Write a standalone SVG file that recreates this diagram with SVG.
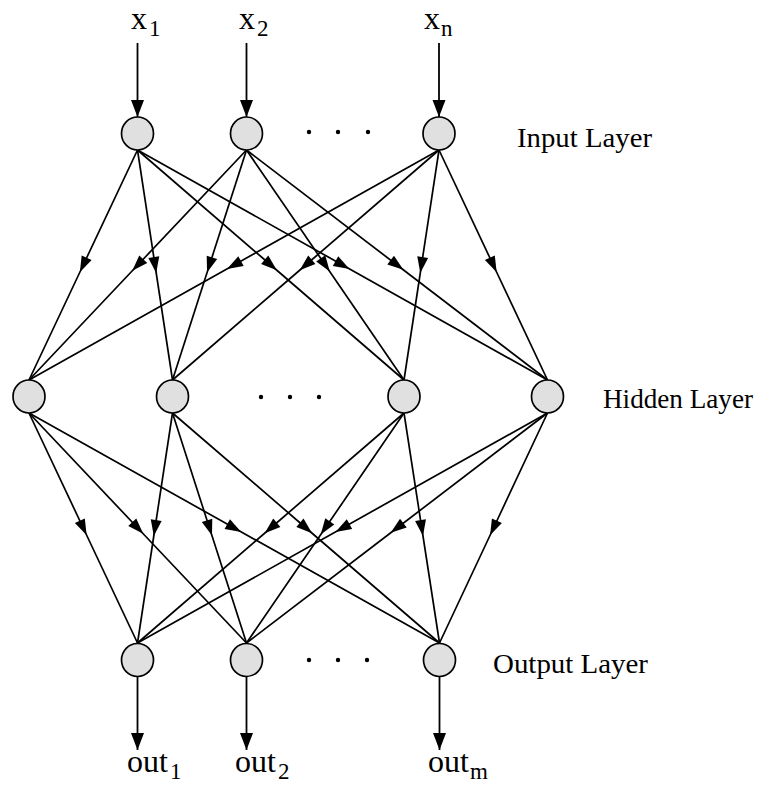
<svg xmlns="http://www.w3.org/2000/svg" width="761" height="785" viewBox="0 0 761 785">
<style>
.node{fill:#e0e0e0;stroke:#000;stroke-width:1.7}
.dot{fill:#000}
.edge{fill:none;stroke:#000;stroke-width:1.7;marker-mid:url(#mid)}
.io{fill:none;stroke:#000;stroke-width:1.8;marker-end:url(#end)}
.lbl{font-family:"Liberation Serif","Times New Roman",serif;font-size:32px;fill:#000}
.sub{font-size:23px}
.layer{font-family:"Liberation Serif","Times New Roman",serif;font-size:28px;fill:#000}
</style>
<defs>
<marker id="mid" markerUnits="userSpaceOnUse" markerWidth="17" markerHeight="12" refX="8" refY="5.5" orient="auto" overflow="visible">
<path d="M0,0 L16,5.5 L0,11 z" fill="#000"/>
</marker>
<marker id="end" markerUnits="userSpaceOnUse" markerWidth="18" markerHeight="13" refX="17" refY="6.5" orient="auto" overflow="visible">
<path d="M0,0 L17,6.5 L0,13 z" fill="#000"/>
</marker>
</defs>
<rect width="761" height="785" fill="#fff"/>
<g id="connectors">
<line class="io" x1="137.5" y1="43" x2="137.5" y2="117"/>
<line class="io" x1="246.5" y1="43" x2="246.5" y2="117"/>
<line class="io" x1="439" y1="43" x2="439" y2="117"/>
<polyline class="edge" points="137.5,150 83.25,265 29,380"/>
<polyline class="edge" points="137.5,150 155,265 172.5,380"/>
<polyline class="edge" points="137.5,150 270.75,265 404,380"/>
<polyline class="edge" points="137.5,150 342.5,265 547.5,380"/>
<polyline class="edge" points="246.5,150 137.75,265 29,380"/>
<polyline class="edge" points="246.5,150 209.5,265 172.5,380"/>
<polyline class="edge" points="246.5,150 325.25,265 404,380"/>
<polyline class="edge" points="246.5,150 397,265 547.5,380"/>
<polyline class="edge" points="439,150 234,265 29,380"/>
<polyline class="edge" points="439,150 305.75,265 172.5,380"/>
<polyline class="edge" points="439,150 421.5,265 404,380"/>
<polyline class="edge" points="439,150 493.25,265 547.5,380"/>
<polyline class="edge" points="29,413 83.25,528 137.5,643"/>
<polyline class="edge" points="29,413 137.75,528 246.5,643"/>
<polyline class="edge" points="29,413 234.25,528 439.5,643"/>
<polyline class="edge" points="172.5,413 155,528 137.5,643"/>
<polyline class="edge" points="172.5,413 209.5,528 246.5,643"/>
<polyline class="edge" points="172.5,413 306,528 439.5,643"/>
<polyline class="edge" points="404,413 270.75,528 137.5,643"/>
<polyline class="edge" points="404,413 325.25,528 246.5,643"/>
<polyline class="edge" points="404,413 421.75,528 439.5,643"/>
<polyline class="edge" points="547.5,413 342.5,528 137.5,643"/>
<polyline class="edge" points="547.5,413 397,528 246.5,643"/>
<polyline class="edge" points="547.5,413 493.5,528 439.5,643"/>
<line class="io" x1="137.5" y1="677" x2="137.5" y2="750"/>
<line class="io" x1="246.5" y1="677" x2="246.5" y2="750"/>
<line class="io" x1="439.5" y1="677" x2="439.5" y2="750"/>
</g>
<g id="input1"><ellipse class="node" cx="137.5" cy="133.5" rx="16" ry="16.5"/></g>
<g id="input2"><ellipse class="node" cx="246.5" cy="133.5" rx="16" ry="16.5"/></g>
<g id="inputn"><ellipse class="node" cx="439" cy="133.5" rx="16" ry="16.5"/></g>
<g id="inputdots"><circle class="dot" cx="309" cy="132" r="2.2"/><circle class="dot" cx="338" cy="132" r="2.2"/><circle class="dot" cx="368" cy="132" r="2.2"/></g>
<g id="hidden1"><ellipse class="node" cx="29" cy="396.5" rx="16" ry="16.5"/></g>
<g id="hidden2"><ellipse class="node" cx="172.5" cy="396.5" rx="16" ry="16.5"/></g>
<g id="hidden3"><ellipse class="node" cx="404" cy="396.5" rx="16" ry="16.5"/></g>
<g id="hidden4"><ellipse class="node" cx="547.5" cy="396.5" rx="16" ry="16.5"/></g>
<g id="hiddendots"><circle class="dot" cx="261" cy="397" r="2.2"/><circle class="dot" cx="290" cy="397" r="2.2"/><circle class="dot" cx="319" cy="397" r="2.2"/></g>
<g id="output1"><ellipse class="node" cx="137.5" cy="660" rx="16" ry="16.5"/></g>
<g id="output2"><ellipse class="node" cx="246.5" cy="660" rx="16" ry="16.5"/></g>
<g id="outputm"><ellipse class="node" cx="439.5" cy="660" rx="16" ry="16.5"/></g>
<g id="outputdots"><circle class="dot" cx="309" cy="660" r="2.2"/><circle class="dot" cx="338" cy="660" r="2.2"/><circle class="dot" cx="367" cy="660" r="2.2"/></g>
<g id="labels">
<text class="lbl" x="131" y="29">x<tspan class="sub" dx="2" dy="7">1</tspan></text>
<text class="lbl" x="239" y="29">x<tspan class="sub" dx="2" dy="7">2</tspan></text>
<text class="lbl" x="424" y="29">x<tspan class="sub" dx="1" dy="7">n</tspan></text>
<text class="lbl" x="127" y="772">out<tspan class="sub" dx="2" dy="7">1</tspan></text>
<text class="lbl" x="235" y="772">out<tspan class="sub" dx="2" dy="7">2</tspan></text>
<text class="lbl" x="428" y="772">out<tspan class="sub" dx="1" dy="7">m</tspan></text>
<text class="layer" x="517" y="147" textLength="135" lengthAdjust="spacingAndGlyphs">Input Layer</text>
<text class="layer" x="603" y="408" textLength="150" lengthAdjust="spacingAndGlyphs">Hidden Layer</text>
<text class="layer" x="493" y="673" textLength="155" lengthAdjust="spacingAndGlyphs">Output Layer</text>
</g>
</svg>
